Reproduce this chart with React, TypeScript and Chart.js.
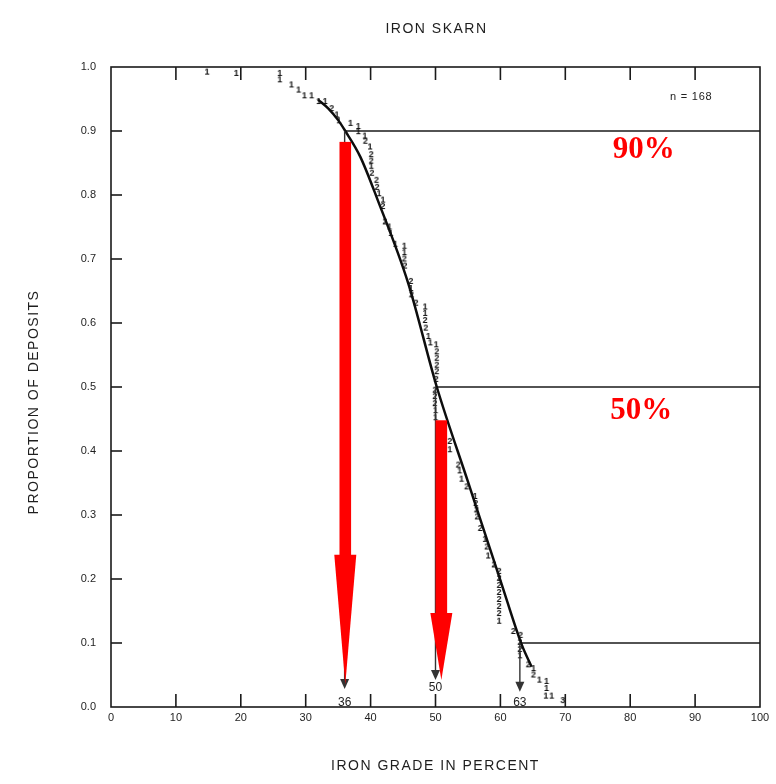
import { useEffect, useRef } from "react";
import { Chart, registerables } from "chart.js";

Chart.register(...registerables);

// ---- data ----
const chartTitle = "IRON SKARN";
const xAxisTitle = "IRON GRADE IN PERCENT";
const yAxisTitle = "PROPORTION OF DEPOSITS";
const sampleNote = "n = 168";

const xTickValues = [0, 10, 20, 30, 40, 50, 60, 70, 80, 90, 100];
const yTickValues = [0, 0.1, 0.2, 0.3, 0.4, 0.5, 0.6, 0.7, 0.8, 0.9, 1.0];

// fitted curve
const curveGrades = [31.9, 33.5, 35, 36.1, 38.4, 41.1, 45.8, 50.2, 55, 60, 63.3, 64.8];
const curveProps = [0.949, 0.935, 0.917, 0.9, 0.86, 0.792, 0.662, 0.5, 0.352, 0.198, 0.097, 0.063];

// plotted deposits (digit = number of deposits at that point)
const pointGrades = [
  14.8, 19.3, 26.0, 26.0, 27.8, 28.9, 29.8, 30.9, 32.0, 33.0,
  34.0, 34.8, 35.1, 36.9, 38.1, 38.1, 39.1, 39.2, 39.9, 40.1,
  40.1, 40.1, 40.2, 40.9, 41.0, 41.3, 41.9, 41.9, 42.2, 42.9,
  43.1, 43.8, 45.2, 45.2, 45.2, 45.3, 46.2, 46.2, 46.3, 47.0,
  48.4, 48.4, 48.4, 48.5, 48.9, 49.2, 50.1, 50.2, 50.2, 50.2,
  50.2, 50.1, 49.9, 49.9, 49.9, 50.0, 50.0, 52.2, 52.2, 53.5,
  53.7, 54.0, 54.8, 56.1, 56.2, 56.3, 56.4, 56.9, 57.6, 57.9,
  58.1, 59.0, 59.8, 59.8, 59.8, 59.8, 59.8, 59.8, 59.8, 59.8,
  62.0, 63.1, 63.0, 63.0, 63.0, 64.3, 65.1, 65.1, 66.0, 67.1,
  67.1, 67.0, 67.9, 69.6,
];
const pointProps = [
  0.992, 0.99, 0.99, 0.98, 0.972, 0.964, 0.955, 0.955, 0.946, 0.946,
  0.935, 0.925, 0.916, 0.912, 0.907, 0.899, 0.892, 0.884, 0.875, 0.863,
  0.853, 0.845, 0.834, 0.823, 0.812, 0.802, 0.792, 0.782, 0.758, 0.75,
  0.74, 0.723, 0.72, 0.71, 0.7, 0.689, 0.665, 0.654, 0.644, 0.631,
  0.625, 0.615, 0.604, 0.592, 0.579, 0.569, 0.566, 0.555, 0.545, 0.534,
  0.524, 0.512, 0.495, 0.485, 0.474, 0.463, 0.452, 0.415, 0.402, 0.378,
  0.369, 0.356, 0.344, 0.329, 0.318, 0.308, 0.297, 0.279, 0.262, 0.25,
  0.236, 0.222, 0.212, 0.201, 0.19, 0.179, 0.168, 0.157, 0.146, 0.134,
  0.118, 0.112, 0.101, 0.09, 0.08, 0.066, 0.06, 0.05, 0.042, 0.04,
  0.029, 0.017, 0.017, 0.01,
];
const pointCounts = [
  1, 1, 1, 1, 1, 1, 1, 1, 1, 1,
  2, 1, 1, 1, 1, 1, 1, 2, 1, 2,
  2, 1, 2, 2, 2, 1, 1, 2, 2, 1,
  1, 1, 1, 1, 2, 2, 2, 1, 2, 2,
  1, 1, 2, 2, 1, 1, 1, 2, 2, 2,
  2, 2, 2, 2, 2, 1, 1, 2, 1, 2,
  1, 1, 2, 1, 2, 2, 2, 2, 1, 2,
  1, 2, 2, 2, 2, 2, 2, 2, 2, 1,
  2, 2, 2, 2, 1, 2, 1, 2, 1, 1,
  1, 1, 1, 3,
];

// 90 / 50 / 10 percent levels
const levelProps = [0.9, 0.5, 0.1];
const levelGrades = [36, 50, 63];
const levelArrowTips = [0.028, 0.042, 0.024];
const levelLabels = ["36", "50", "63"];
const levelLabelProps = [0.007, 0.03, 0.007];

// red highlight arrows
const redArrowGrades = [36.1, 50.9];
const redArrowTops = [0.883, 0.448];
const redArrowHeadBases = [0.238, 0.147];
const redArrowTips = [0.035, 0.042];

const percentLabels = ["90%", "50%"];
const percentGrades = [82.1, 81.7];
const percentProps = [0.87, 0.4625];

const noteGrade = 89.4;
const noteProp = 0.953;

const SANS = "'Liberation Sans', Arial, sans-serif";

function makeDigit(d: number): HTMLCanvasElement {
  const c = document.createElement("canvas");
  c.width = 8;
  c.height = 11;
  const g = c.getContext("2d")!;
  g.fillStyle = "#111";
  g.font = `bold 9px ${SANS}`;
  g.textAlign = "center";
  g.textBaseline = "middle";
  g.fillText(String(d), 4, 6);
  return c;
}

const overlayPlugin = {
  id: "overlay",
  afterDatasetsDraw(chart: any) {
    const { ctx, chartArea: a, scales } = chart;
    const x = scales.x;
    const y = scales.y;
    const line = (x1: number, y1: number, x2: number, y2: number) => {
      ctx.beginPath();
      ctx.moveTo(x1, y1);
      ctx.lineTo(x2, y2);
      ctx.stroke();
    };
    ctx.save();
    // frame + inward ticks
    ctx.strokeStyle = "#1a1a1a";
    ctx.lineWidth = 1.6;
    ctx.strokeRect(a.left, a.top, a.right - a.left, a.bottom - a.top);
    xTickValues.forEach((v) => {
      if (v === 0 || v === 100) return;
      const px = x.getPixelForValue(v);
      line(px, a.bottom, px, a.bottom - 13);
      line(px, a.top, px, a.top + 13);
    });
    yTickValues.forEach((v) => {
      if (v === 0 || v === 1) return;
      const py = y.getPixelForValue(v);
      line(a.left, py, a.left + 11, py);
    });

    // thin black arrows
    ctx.strokeStyle = "#333";
    ctx.fillStyle = "#333";
    ctx.lineWidth = 1.4;
    levelGrades.forEach((g, i) => {
      const px = x.getPixelForValue(g);
      const top = y.getPixelForValue(levelProps[i]);
      const tip = y.getPixelForValue(levelArrowTips[i]);
      line(px, top, px, tip - 8);
      ctx.beginPath();
      ctx.moveTo(px - 4.5, tip - 10);
      ctx.lineTo(px + 4.5, tip - 10);
      ctx.lineTo(px, tip);
      ctx.closePath();
      ctx.fill();
    });
    ctx.font = `12px ${SANS}`;
    ctx.fillStyle = "#222";
    ctx.textAlign = "center";
    ctx.textBaseline = "middle";
    levelLabels.forEach((t, i) => {
      ctx.fillText(t, x.getPixelForValue(levelGrades[i]), y.getPixelForValue(levelLabelProps[i]));
    });

    // red arrows
    ctx.fillStyle = "#ff0000";
    redArrowGrades.forEach((g, i) => {
      const px = x.getPixelForValue(g);
      const top = y.getPixelForValue(redArrowTops[i]);
      const base = y.getPixelForValue(redArrowHeadBases[i]);
      const tip = y.getPixelForValue(redArrowTips[i]);
      ctx.fillRect(px - 5.8, top, 11.6, base - top + 1);
      ctx.beginPath();
      ctx.moveTo(px - 11, base);
      ctx.lineTo(px + 11, base);
      ctx.lineTo(px, tip);
      ctx.closePath();
      ctx.fill();
    });

    // red percent labels
    ctx.font = `bold 31px 'Liberation Serif', 'Times New Roman', serif`;
    percentLabels.forEach((t, i) => {
      ctx.fillText(t, x.getPixelForValue(percentGrades[i]), y.getPixelForValue(percentProps[i]));
    });

    // n note
    ctx.fillStyle = "#222";
    ctx.font = `11px ${SANS}`;
    (ctx as any).letterSpacing = "0.8px";
    ctx.fillText(sampleNote, x.getPixelForValue(noteGrade), y.getPixelForValue(noteProp));

    // titles
    ctx.font = `14px ${SANS}`;
    (ctx as any).letterSpacing = "1.5px";
    ctx.fillStyle = "#1e1e1e";
    ctx.fillText(chartTitle, (a.left + a.right) / 2 + 1, 29);
    ctx.fillText(xAxisTitle, (a.left + a.right) / 2, 766);
    ctx.translate(34, 402);
    ctx.rotate(-Math.PI / 2);
    ctx.fillText(yAxisTitle, 0, 0);
    ctx.restore();
  },
};

export default function App() {
  const ref = useRef<HTMLCanvasElement | null>(null);
  useEffect(() => {
    if (!ref.current) return;
    const digitImgs: Record<number, HTMLCanvasElement> = {
      1: makeDigit(1),
      2: makeDigit(2),
      3: makeDigit(3),
    };
    const levelDatasets = levelProps.map((p, i) => ({
      type: "line" as const,
      data: [
        { x: levelGrades[i], y: p },
        { x: 100, y: p },
      ],
      borderColor: "#1a1a1a",
      borderWidth: 1.5,
      pointRadius: 0,
      showLine: true,
      order: 2,
    }));
    const chart = new Chart(ref.current, {
      type: "scatter",
      data: {
        datasets: [
          {
            type: "line",
            data: curveGrades.map((g, i) => ({ x: g, y: curveProps[i] })),
            borderColor: "#0d0d0d",
            borderWidth: 2.5,
            pointRadius: 0,
            showLine: true,
            cubicInterpolationMode: "monotone",
            order: 1,
          } as any,
          ...levelDatasets,
          {
            type: "scatter",
            data: pointGrades.map((g, i) => ({ x: g, y: pointProps[i] })),
            pointStyle: (c: any) => digitImgs[pointCounts[c.dataIndex]] || digitImgs[1],
            pointRadius: 4,
            order: 0,
          } as any,
        ],
      },
      options: {
        responsive: false,
        animation: false,
        events: [],
        layout: { padding: { top: 67, right: 16, left: 0, bottom: 0 } },
        plugins: { legend: { display: false }, tooltip: { enabled: false }, title: { display: false } },
        scales: {
          x: {
            type: "linear",
            min: 0,
            max: 100,
            afterBuildTicks: (s: any) => {
              s.ticks = xTickValues.map((v) => ({ value: v }));
            },
            afterFit: (s: any) => {
              s.height = 77;
            },
            grid: { display: false, drawTicks: false },
            border: { display: false },
            ticks: {
              padding: 4,
              color: "#1e1e1e",
              font: { family: SANS, size: 11 },
              maxRotation: 0,
              autoSkip: false,
              callback: (v: any) => String(v),
            },
          },
          y: {
            type: "linear",
            min: 0,
            max: 1,
            afterBuildTicks: (s: any) => {
              s.ticks = yTickValues.map((v) => ({ value: v }));
            },
            afterFit: (s: any) => {
              s.width = 111;
            },
            grid: { display: false, drawTicks: false },
            border: { display: false },
            ticks: {
              padding: 15,
              color: "#1e1e1e",
              font: { family: SANS, size: 11 },
              autoSkip: false,
              callback: (v: any) => Number(v).toFixed(1),
            },
          },
        },
      },
      plugins: [overlayPlugin],
    });
    return () => chart.destroy();
  }, []);
  return (
    <div style={{ position: "absolute", left: 0, top: 0, width: 776, height: 784, background: "#fff" }}>
      <canvas ref={ref} width={776} height={784} style={{ display: "block", width: 776, height: 784 }} />
    </div>
  );
}
